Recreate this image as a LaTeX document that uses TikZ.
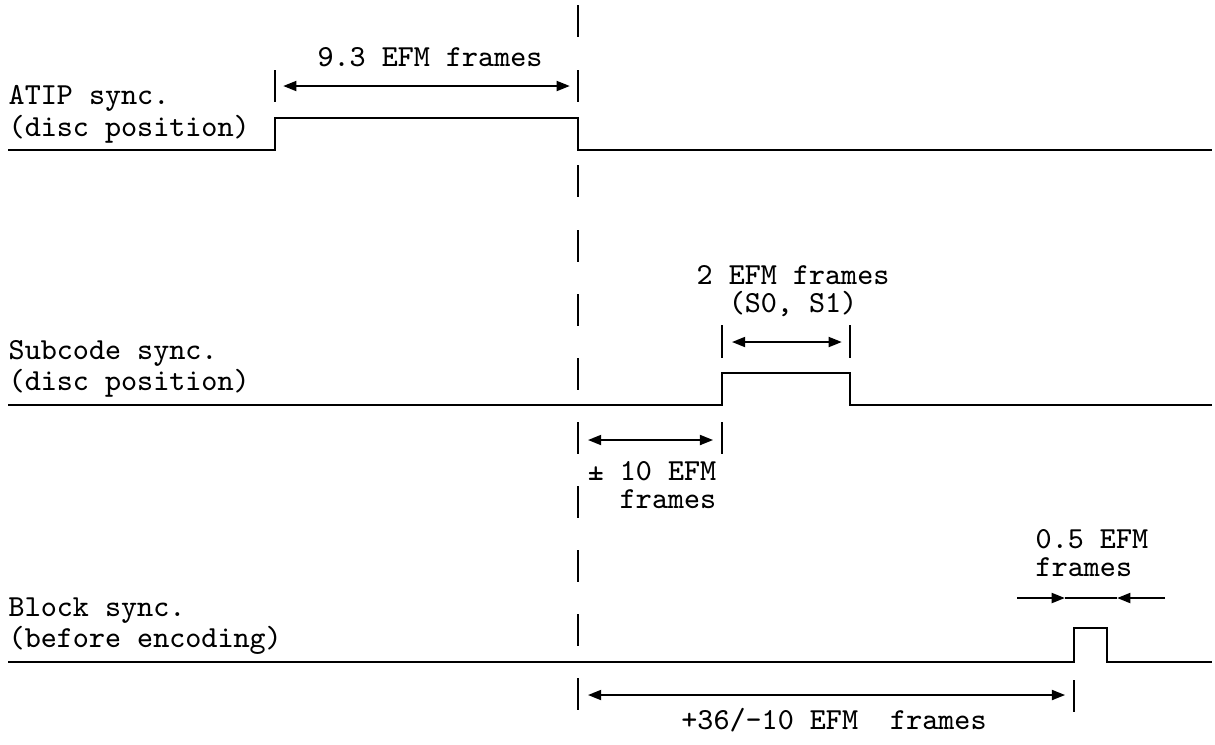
\documentclass[tikz,border=0pt]{standalone}
\usetikzlibrary{positioning, arrows.meta}

\tikzset{
  sig/.style={line width=0.8pt},
  dim/.style={line width=0.7pt, {Triangle[length=3.8pt,width=2.8pt]}-{Triangle[length=3.8pt,width=2.8pt]}},
  dimin/.style={line width=0.7pt, -{Triangle[length=3.8pt,width=2.8pt]}},
  lbl/.style={font=\ttfamily\fontsize{8.7}{8}\selectfont, inner sep=0pt, align=left},
}

\begin{document}
\begin{tikzpicture}[x=0.01cm, y=-0.01cm]
  \useasboundingbox (0,0) rectangle (1215,744);

  % signals
  \draw[sig] (8,150) -- (275,150) -- (275,118) -- (578,118) -- (578,150) -- (1212,150);
  \draw[sig] (8,405) -- (722,405) -- (722,373) -- (850,373) -- (850,405) -- (1212,405);
  \draw[sig] (8,662) -- (1074,662) -- (1074,628) -- (1107,628) -- (1107,662) -- (1212,662);

  % reference line
  \foreach \y in {5,70,165,230,294,358,422,486,550,614,678} {
    \draw[sig] (578,\y) -- (578,\y+32);
  }

  % ticks
  \draw[sig] (275,70) -- (275,102);
  \draw[sig] (722,325) -- (722,358);
  \draw[sig] (850,325) -- (850,358);
  \draw[sig] (722,422) -- (722,454);
  \draw[sig] (1074,680) -- (1074,712);

  \node[lbl, anchor=west] (atip) at (8,114) {ATIP sync.\\(disc position)};
  \node[lbl, anchor=west] (subc) at (8,369) {Subcode sync.\\(disc position)};
  \node[lbl, anchor=west] (blk) at (8,626) {Block sync.\\(before encoding)};

  \node[lbl] (w93) at (430,57) {9.3 EFM frames};
  \node[lbl, align=center] (w2) at (793,291) {2 EFM frames\\(S0, S1)};
  \node[lbl, align=right, anchor=east] (w10) at (717,485) {± 10 EFM\\frames};
  \node[lbl, anchor=west] (w05) at (1035,553) {0.5 EFM\\frames};
  \node[lbl] (w36) at (834,720) {+36/-10 EFM\ \ frames};

  % dimension arrows
  \coordinate (a93l) at (275,86);  \coordinate (a93r) at (578,86);
  \coordinate (a2l) at (722,342);  \coordinate (a2r) at (850,342);
  \coordinate (a10l) at (578,440); \coordinate (a10r) at (722,440);
  \coordinate (a36l) at (578,695); \coordinate (a36r) at (1074,695);
  \coordinate (a05l) at (1017,598); \coordinate (a05r) at (1165,598);
  \coordinate (p05l) at (1065,598); \coordinate (p05r) at (1117,598);

  \draw[dim, shorten <=2.3pt, shorten >=2.3pt] (a93l) -- (a93r);
  \draw[dim, shorten <=2.8pt, shorten >=2.3pt] (a2l) -- (a2r);
  \draw[dim, shorten <=2.8pt, shorten >=2.5pt] (a10l) -- (a10r);
  \draw[dim, shorten <=2.8pt, shorten >=2.5pt] (a36l) -- (a36r);
  \draw[line width=0.7pt] (p05l) -- (p05r);
  \draw[dimin] (a05l) -- (p05l);
  \draw[dimin] (a05r) -- (p05r);
\end{tikzpicture}
\end{document}
